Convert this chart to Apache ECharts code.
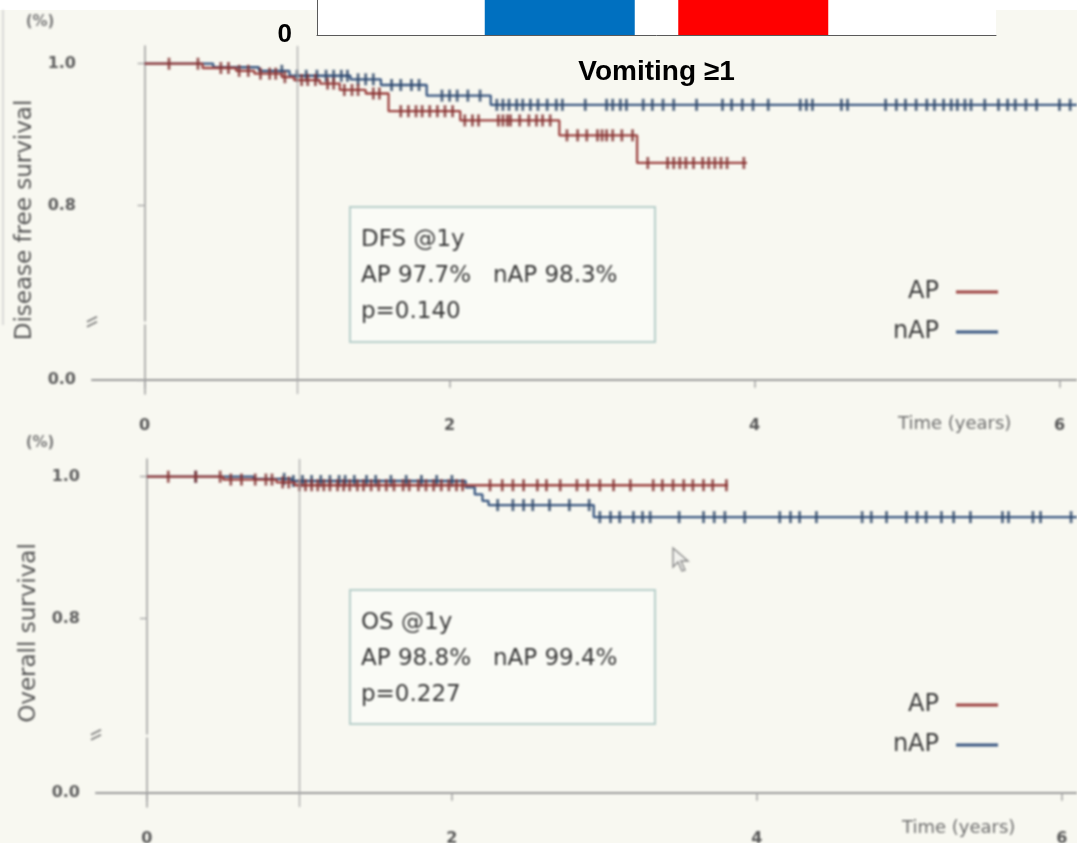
<!DOCTYPE html>
<html>
<head>
<meta charset="utf-8">
<script src="https://cdn.jsdelivr.net/npm/echarts@6/dist/echarts.min.js"></script>
<style>
  html, body { margin: 0; padding: 0; width: 1077px; height: 843px; overflow: hidden; background: #f8f8f1; }
  #strip { position: absolute; left: 0; top: 0; width: 1077px; height: 10px; background: #ffffff; }
  #km { position: absolute; left: 0; top: 0; width: 1077px; height: 843px; filter: blur(0.9px); }
  #bars { position: absolute; left: 0; top: 0; width: 1077px; height: 843px; }
</style>
</head>
<body>
<div id="strip"></div>
<div id="km"></div>
<div id="bars"></div>
<script>
// ---- Bar panel (top strip) ----
const barCategories = ['Vomiting ≥1'];
const barValuesBlue = [31];
const barValuesRed = [36];
const barAxisTicks = [0];

// ---- Kaplan–Meier: disease free survival ----
const dfsApTimes = [0, 0.38, 0.6, 0.72, 0.9, 0.98, 1.15, 1.28, 1.45, 1.6, 2.07, 2.72, 3.23, 3.95];
const dfsApSurv  = [1.0, 0.994, 0.99, 0.986, 0.981, 0.977, 0.972, 0.963, 0.958, 0.933, 0.92, 0.899, 0.86, 0.86];
const dfsApCensored = [0.16, 0.35, 0.5, 0.55, 0.62, 0.68, 0.76, 0.82, 0.86, 0.92, 1.03, 1.07, 1.12, 1.2, 1.24,
  1.31, 1.36, 1.4, 1.5, 1.54, 1.68, 1.73, 1.78, 1.82, 1.87, 1.92, 1.97, 2.02, 2.1, 2.15, 2.19, 2.32, 2.35, 2.38,
  2.4, 2.46, 2.52, 2.57, 2.61, 2.66, 2.77, 2.84, 2.9, 2.97, 3.0, 3.03, 3.07, 3.13, 3.2, 3.3, 3.43, 3.47, 3.51,
  3.55, 3.6, 3.66, 3.7, 3.74, 3.78, 3.82, 3.93];

const dfsNapTimes = [0, 0.45, 0.75, 0.95, 1.35, 1.55, 1.85, 2.27, 6.2];
const dfsNapSurv  = [1.0, 0.995, 0.99, 0.983, 0.978, 0.970, 0.955, 0.942, 0.942];
const dfsNapCensored = [0.9, 1.0, 1.06, 1.13, 1.19, 1.24, 1.29, 1.33, 1.4, 1.45, 1.5, 1.62, 1.68, 1.75, 1.8,
  1.95, 2.0, 2.05, 2.12, 2.2, 2.31, 2.35, 2.39, 2.44, 2.48, 2.53, 2.58, 2.64, 2.7, 2.74, 2.89, 3.03, 3.07, 3.12,
  3.16, 3.27, 3.33, 3.4, 3.47, 3.62, 3.79, 3.85, 3.92, 3.99, 4.09, 4.3, 4.34, 4.38, 4.57, 4.61, 4.86, 4.93, 4.99,
  5.06, 5.13, 5.18, 5.24, 5.29, 5.33, 5.38, 5.42, 5.51, 5.6, 5.66, 5.71, 5.78, 5.85, 6.0, 6.07];

// ---- Kaplan–Meier: overall survival ----
const osApTimes = [0, 0.5, 0.85, 0.97, 3.81];
const osApSurv  = [1.0, 0.996, 0.992, 0.988, 0.988];
const osApCensored = [0.14, 0.32, 0.48, 0.55, 0.62, 0.71, 0.78, 0.82, 0.89, 0.93, 1.0, 1.04, 1.08, 1.12, 1.16,
  1.2, 1.25, 1.29, 1.33, 1.38, 1.42, 1.47, 1.52, 1.57, 1.62, 1.68, 1.72, 1.78, 1.83, 1.88, 1.93, 1.98, 2.03, 2.07,
  2.25, 2.33, 2.4, 2.47, 2.56, 2.62, 2.71, 2.82, 2.89, 2.97, 3.06, 3.17, 3.32, 3.38, 3.45, 3.52, 3.58, 3.65,
  3.71, 3.8];

const osNapTimes = [0, 0.7, 0.95, 2.09, 2.15, 2.2, 2.24, 2.93, 6.2];
const osNapSurv  = [1.0, 0.997, 0.994, 0.985, 0.975, 0.966, 0.96, 0.943, 0.943];
const osNapCensored = [0.32, 0.9, 0.96, 1.02, 1.08, 1.14, 1.2, 1.26, 1.3, 1.36, 1.44, 1.5, 1.6, 1.7, 1.8, 1.9,
  2.0, 2.3, 2.4, 2.47, 2.53, 2.64, 2.77, 2.9, 2.97, 3.04, 3.1, 3.19, 3.25, 3.3, 3.49, 3.65, 3.72, 3.79, 3.92,
  4.15, 4.22, 4.28, 4.39, 4.69, 4.75, 4.85, 4.98, 5.05, 5.11, 5.21, 5.29, 5.4, 5.61, 5.65, 5.81, 5.86, 6.06];

// ---- Axes, labels and annotations ----
const survivalTicks = [0, 0.8, 1.0];
const timeTicks = [0, 2, 4, 6];
const landmarkYear = 1;
const axisBreak = { start: 0.0776, end: 0.6377, gap: 0.006 };
const groupNames = ['AP', 'nAP'];
const dfsBoxLines = ['DFS @1y', 'AP 97.7%   nAP 98.3%', 'p=0.140'];
const osBoxLines = ['OS @1y', 'AP 98.8%   nAP 99.4%', 'p=0.227'];
const yTitles = ['Disease free survival', 'Overall survival'];
const timeTitle = 'Time (years)';
const unitLabel = '(%)';

const FONT = 'DejaVu Sans, Noto Sans, sans-serif';
const AP_LINE = '#9c4240', AP_TICK = '#823131';
const NAP_LINE = '#385680', NAP_TICK = '#2b4366';
const X_RANGES = [[-0.345, 6.115], [-0.334, 6.099]];

function stepData(times, surv) {
  return times.map((t, i) => [t, surv[i]]);
}
function survivalAt(times, surv, t) {
  let s = surv[0];
  for (let i = 0; i < times.length; i++) if (times[i] <= t) s = surv[i];
  return s;
}
function censorData(times, surv, cens) {
  return cens.map(t => [t, survivalAt(times, surv, t)]);
}

function kmSeries(name, lineColor, tickColor, times, surv, cens, gi, z) {
  return [{
    type: 'line', name, xAxisIndex: gi, yAxisIndex: gi, step: 'end',
    data: stepData(times, surv), symbol: 'none', showSymbol: false,
    lineStyle: { color: lineColor, width: 2.3 }, itemStyle: { color: lineColor },
    silent: true, z
  }, {
    type: 'scatter', name: name + ' censored', xAxisIndex: gi, yAxisIndex: gi,
    data: censorData(times, surv, cens), symbol: 'rect', symbolSize: [2.8, 12],
    itemStyle: { color: tickColor }, silent: true, z
  }];
}

function landmarkSeries(gi) {
  return {
    type: 'line', name: 'landmark', xAxisIndex: gi, yAxisIndex: gi, data: [], silent: true,
    markLine: {
      silent: true, symbol: 'none', animation: false, label: { show: false },
      lineStyle: { color: '#a9a9a9', width: 1.3, type: 'solid' },
      data: [{ xAxis: landmarkYear }]
    }
  };
}

// Small "//" mark drawn across the survival axis where the scale is broken.
function breakMarkSeries(gi) {
  return {
    type: 'custom', name: 'axis break', xAxisIndex: gi, yAxisIndex: gi, silent: true, clip: false, z: 10,
    data: [[X_RANGES[gi][0], axisBreak.start, axisBreak.end]],
    renderItem: (params, api) => {
      const p1 = api.coord([api.value(0), api.value(1)]);
      const p2 = api.coord([api.value(0), api.value(2)]);
      const x = p1[0], y = (p1[1] + p2[1]) / 2;
      const st = { stroke: '#7a7a7a', lineWidth: 1.6 };
      return {
        type: 'group',
        children: [
          { type: 'rect', shape: { x: x - 2, y: y - 5, width: 4, height: 9 }, style: { fill: '#f8f8f1' } },
          { type: 'line', shape: { x1: x - 5, y1: y - 1, x2: x + 5, y2: y - 6 }, style: st },
          { type: 'line', shape: { x1: x - 5, y1: y + 4, x2: x + 5, y2: y - 1 }, style: st }
        ]
      };
    }
  };
}

function kmXAxis(gi) {
  return {
    type: 'value', gridIndex: gi, min: X_RANGES[gi][0], max: X_RANGES[gi][1],
    axisLine: { show: true, lineStyle: { color: '#9b9b9b', width: 2 } },
    axisTick: { show: true, customValues: timeTicks, length: 8, lineStyle: { color: '#a5a5a5', width: 1.5 } },
    axisLabel: { customValues: timeTicks, margin: 24, fontFamily: FONT, fontWeight: 'bold', fontSize: 16, color: '#585858' },
    splitLine: { show: false }
  };
}

function kmYAxis(gi, title) {
  return {
    type: 'value', gridIndex: gi, min: -0.02, max: 1.025,
    breaks: [{ start: axisBreak.start, end: axisBreak.end, gap: axisBreak.gap }],
    breakArea: { show: false, expandOnClick: false },
    axisLine: { show: true, lineStyle: { color: '#a3a3a3', width: 1.6 } },
    axisTick: { show: true, customValues: survivalTicks, length: 7, lineStyle: { color: '#a3a3a3', width: 1.3 } },
    axisLabel: {
      customValues: survivalTicks, margin: 16, fontFamily: FONT, fontWeight: 'bold', fontSize: 16, color: '#5e5e5e',
      formatter: v => Number(v).toFixed(1)
    },
    splitLine: { show: false },
    name: title, nameLocation: 'middle', nameGap: 51,
    nameTextStyle: { fontFamily: FONT, fontSize: 23, color: '#555555' }
  };
}

function legendAt(top) {
  return {
    data: groupNames, orient: 'vertical', align: 'right', right: 74, top,
    itemWidth: 42, itemHeight: 3, itemGap: 16, icon: 'rect', selectedMode: false,
    textStyle: { fontFamily: FONT, fontSize: 24, color: '#3a3a3a', padding: [0, 12, 0, 0] }
  };
}

function infoBox(id, x, y, w, h, lines) {
  return {
    type: 'group', id, silent: true,
    children: [{
      type: 'rect', shape: { x, y, width: w, height: h },
      style: { fill: '#fafbf6', stroke: '#b8cfcb', lineWidth: 2 }
    }, {
      type: 'text', x: x + 11, y: y + 15,
      style: {
        text: lines.join('\n'), font: '23px ' + FONT, fill: '#383838', lineHeight: 36,
        align: 'left', textAlign: 'left', verticalAlign: 'top', textVerticalAlign: 'top'
      }
    }]
  };
}

function plainText(id, x, y, text, font, fill, align) {
  return {
    type: 'text', id, x, y, silent: true,
    style: { text, font, fill, align, textAlign: align, verticalAlign: 'middle', textVerticalAlign: 'middle' }
  };
}

const km = echarts.init(document.getElementById('km'), null, { renderer: 'canvas' });
km.setOption({
  animation: false,
  backgroundColor: 'transparent',
  grid: [
    { left: 92, top: 46, width: 985, height: 348, containLabel: false, outerBoundsMode: 'none' },
    { left: 96, top: 459, width: 981, height: 348, containLabel: false, outerBoundsMode: 'none' }
  ],
  xAxis: [kmXAxis(0), kmXAxis(1)],
  yAxis: [kmYAxis(0, yTitles[0]), kmYAxis(1, yTitles[1])],
  legend: [legendAt(275), legendAt(688)],
  series: [
    landmarkSeries(0), landmarkSeries(1),
    breakMarkSeries(0), breakMarkSeries(1),
    ...kmSeries('nAP', NAP_LINE, NAP_TICK, dfsNapTimes, dfsNapSurv, dfsNapCensored, 0, 3),
    ...kmSeries('AP', AP_LINE, AP_TICK, dfsApTimes, dfsApSurv, dfsApCensored, 0, 4),
    ...kmSeries('nAP', NAP_LINE, NAP_TICK, osNapTimes, osNapSurv, osNapCensored, 1, 3),
    ...kmSeries('AP', AP_LINE, AP_TICK, osApTimes, osApSurv, osApCensored, 1, 4)
  ],
  graphic: {
    elements: [
      plainText('unit0', 40, 22, unitLabel, 'bold 15px ' + FONT, '#7a7a7a', 'center'),
      plainText('unit1', 40, 443, unitLabel, 'bold 15px ' + FONT, '#7a7a7a', 'center'),
      plainText('time0', 898, 424, timeTitle, '18px ' + FONT, '#6e6e6e', 'left'),
      plainText('time1', 902, 828, timeTitle, '18px ' + FONT, '#6e6e6e', 'left'),
      infoBox('box0', 350, 207, 305, 135, dfsBoxLines),
      infoBox('box1', 350, 590, 305, 134, osBoxLines),
      {
        type: 'polygon', id: 'pointer', silent: true,
        shape: { points: [[673, 548], [673, 567], [678, 562], [682, 571], [685, 570], [681, 561], [688, 561]] },
        style: { fill: '#f2f2ee', stroke: '#8a8a8a', lineWidth: 1.4 }
      },
      {
        type: 'line', id: 'frameEdge', silent: true,
        shape: { x1: 3, y1: 10, x2: 3, y2: 325 },
        style: { stroke: '#cfcfcf', lineWidth: 1.5 }
      }
    ]
  }
});

// ---- Bar panel ----
const bars = echarts.init(document.getElementById('bars'), null, { renderer: 'canvas' });
bars.setOption({
  animation: false,
  backgroundColor: 'transparent',
  grid: { left: 317, top: -380, width: 679, height: 415, show: true, backgroundColor: '#ffffff', borderWidth: 0,
          containLabel: false, outerBoundsMode: 'none' },
  xAxis: {
    type: 'category', data: barCategories,
    axisLine: { show: true, lineStyle: { color: '#5a5a5a', width: 1 } },
    axisTick: { show: false },
    axisLabel: { color: '#000000', fontWeight: 'bold', fontSize: 28, fontFamily: 'Liberation Sans, Arial, sans-serif', margin: 23 },
    splitLine: { show: false }
  },
  yAxis: {
    type: 'value', min: 0, max: 50,
    axisLine: { show: true, lineStyle: { color: '#5a5a5a', width: 1 } },
    axisTick: { show: false }, splitLine: { show: false },
    axisLabel: { customValues: barAxisTicks, color: '#000000', fontWeight: 'bold', fontSize: 26,
                 fontFamily: 'Liberation Sans, Arial, sans-serif', margin: 25 }
  },
  series: [
    { type: 'bar', name: 'Group 1', data: barValuesBlue, barWidth: 150, barGap: '29%', itemStyle: { color: '#0070C0' }, silent: true },
    { type: 'bar', name: 'Group 2', data: barValuesRed, barWidth: 150, barGap: '29%', itemStyle: { color: '#FF0000' }, silent: true }
  ]
});
</script>
</body>
</html>
